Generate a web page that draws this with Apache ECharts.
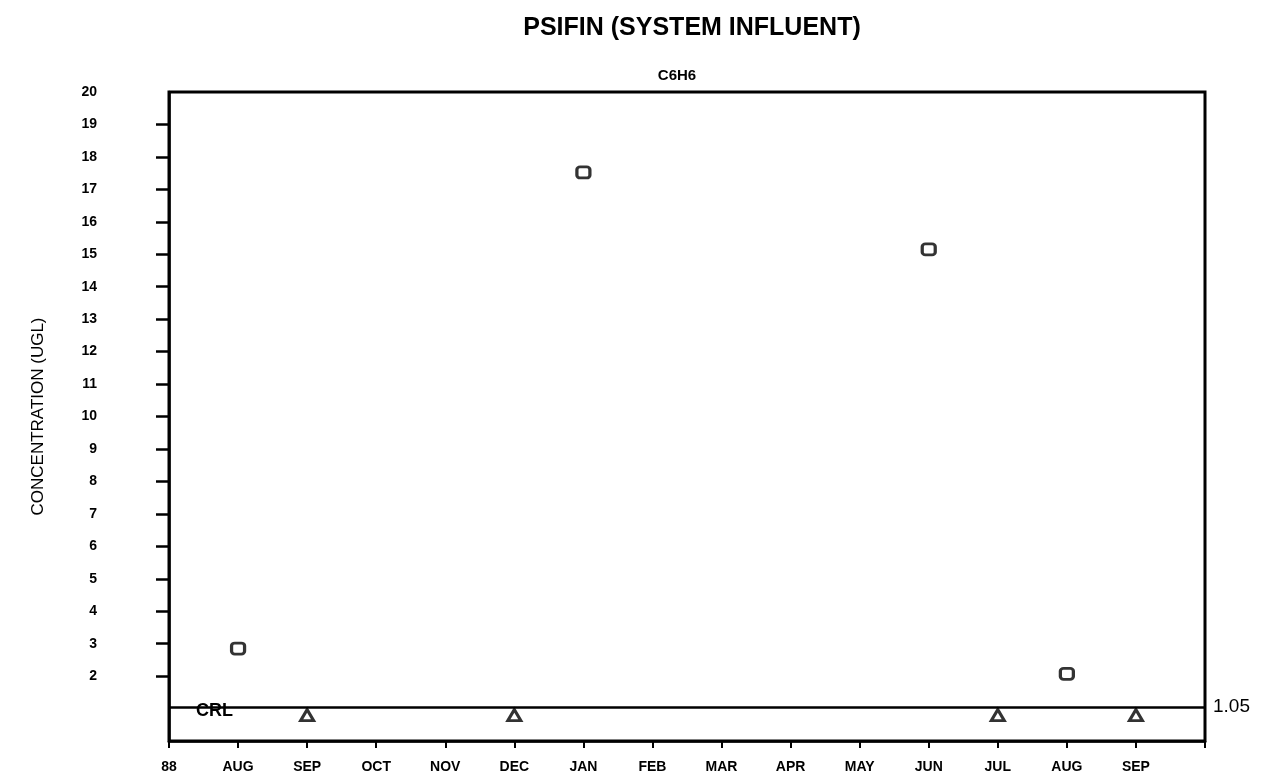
<!DOCTYPE html>
<html>
<head>
<meta charset="utf-8">
<script src="https://cdn.jsdelivr.net/npm/echarts@6/dist/echarts.min.js"></script>
<style>
html,body{margin:0;padding:0;background:#fff;}
#chart{width:1266px;height:780px;}
</style>
</head>
<body>
<div id="chart"></div>
<script>
// ---- data ----
var xLabels = ['88','AUG','SEP','OCT','NOV','DEC','JAN','FEB','MAR','APR','MAY','JUN','JUL','AUG','SEP',''];
var yLabelValues = [2,3,4,5,6,7,8,9,10,11,12,13,14,15,16,17,18,19,20];
var yTickValues = [2,3,4,5,6,7,8,9,10,11,12,13,14,15,16,17,18,19];
var detectX = [1, 6, 11, 13];
var detectY = [2.85, 17.52, 15.15, 2.07];
var ndX = [2, 5, 12, 14];
var ndY = [0.8, 0.8, 0.8, 0.8];
var crlValue = 1.05;
var titleText = 'PSIFIN (SYSTEM INFLUENT)';
var subText = 'C6H6';
var yName = 'CONCENTRATION (UGL)';

function pairs(xs, ys){ return xs.map(function(x,i){ return [x, ys[i]]; }); }

var chart = echarts.init(document.getElementById('chart'));
var FONT = 'Liberation Sans, Arial, sans-serif';
chart.setOption({
  backgroundColor: '#fff',
  animation: false,
  title: [
    {text: titleText, left: 687, top: 11, textAlign: 'center',
     textStyle: {fontFamily: FONT, fontSize: 25, fontWeight: 'bold', color: '#000'}},
    {text: subText, left: 672, top: 63, textAlign: 'center',
     textStyle: {fontFamily: FONT, fontSize: 15, fontWeight: 'bold', color: '#000'}}
  ],
  grid: {left: 169, right: 61, top: 92, bottom: 39, show: true,
         borderColor: '#000', borderWidth: 3, backgroundColor: 'transparent'},
  xAxis: {
    type: 'value', min: 0, max: 15, interval: 1,
    axisLine: {show: true, onZero: false, lineStyle: {color: '#000', width: 2.5}},
    axisTick: {show: true, inside: false, length: 7, lineStyle: {color: '#000', width: 2}},
    axisLabel: {margin: 19, color: '#000', fontFamily: FONT, fontSize: 14, fontWeight: 'bold',
                formatter: function(v){ return xLabels[Math.round(v)] || ''; }},
    splitLine: {show: false}
  },
  yAxis: {
    type: 'value', min: 0, max: 20, interval: 1,
    name: yName, nameLocation: 'middle', nameGap: 122, nameRotate: 90,
    nameTextStyle: {fontFamily: FONT, fontSize: 17, color: '#000'},
    axisLine: {show: true, onZero: false, lineStyle: {color: '#000', width: 2.5}},
    axisTick: {show: true, inside: false, length: 13, customValues: yTickValues,
               lineStyle: {color: '#000', width: 2.5}},
    axisLabel: {margin: 72, color: '#000', fontFamily: FONT, fontSize: 14, fontWeight: 'bold',
                customValues: yLabelValues},
    splitLine: {show: false}
  },
  series: [
    {
      type: 'scatter', name: 'detect', data: pairs(detectX, detectY),
      symbol: 'roundRect', symbolSize: [13, 11],
      itemStyle: {color: '#fff', borderColor: '#000', borderWidth: 3},
      markLine: {
        silent: true, symbol: 'none',
        lineStyle: {color: '#000', width: 2.5, type: 'solid'},
        data: [
          {yAxis: crlValue,
           label: {show: true, position: 'end', formatter: '1.05', distance: 8,
                   fontFamily: FONT, fontSize: 19, color: '#000'}},
          {yAxis: crlValue, lineStyle: {color: 'rgba(0,0,0,0)', width: 0},
           label: {show: true, position: 'insideStartBottom', formatter: 'CRL', distance: -5,
                   padding: [0, 0, 0, 32],
                   fontFamily: FONT, fontSize: 18, fontWeight: 'bold', color: '#000'}}
        ]
      }
    },
    {
      type: 'scatter', name: 'nondetect', data: pairs(ndX, ndY),
      symbol: 'triangle', symbolSize: [13, 11],
      itemStyle: {color: '#fff', borderColor: '#000', borderWidth: 3}
    }
  ]
});
</script>
</body>
</html>
